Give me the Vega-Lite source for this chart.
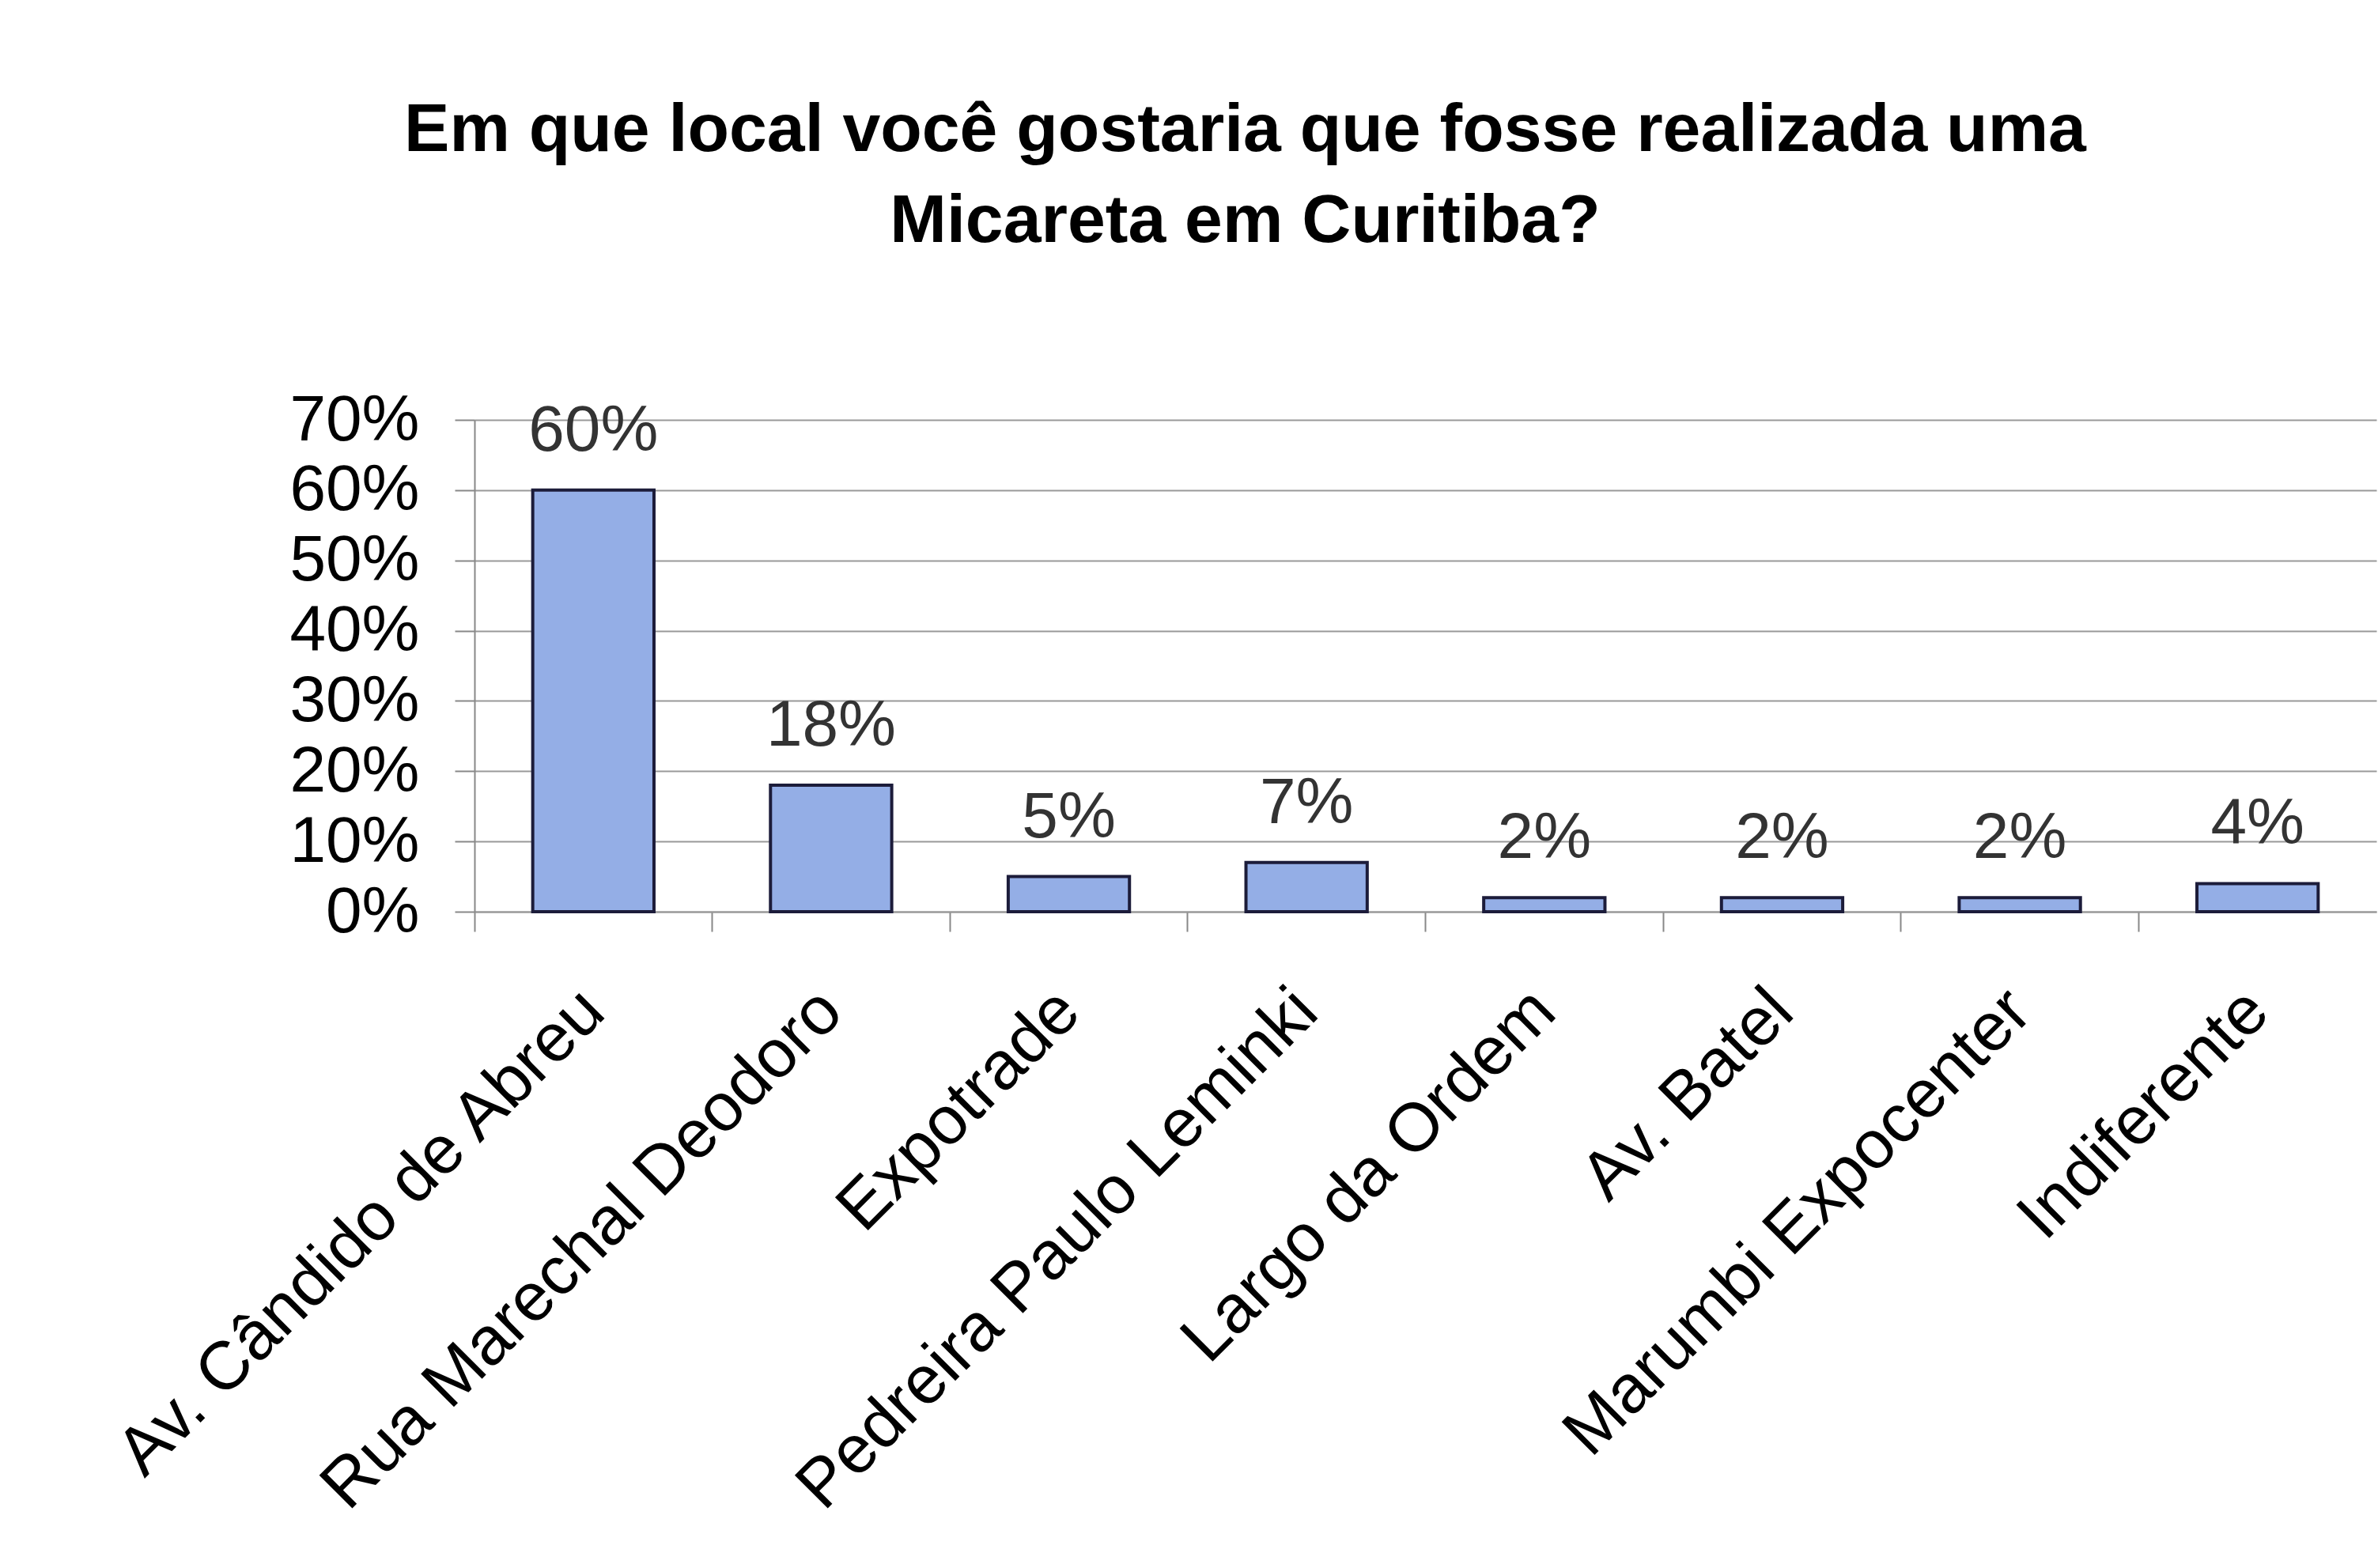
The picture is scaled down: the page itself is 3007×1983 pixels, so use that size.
{
  "$schema": "https://vega.github.io/schema/vega-lite/v6.json",
  "autosize": {"type": "none"},
  "width": 2405,
  "height": 622,
  "padding": {"left": 600, "top": 531, "right": 2, "bottom": 830},
  "background": "white",
  "config": {"view": {"stroke": null}, "font": "Liberation Sans"},
  "title": {
    "text": ["Em que local você gostaria que fosse realizada uma", "Micareta em Curitiba?"],
    "font": "Liberation Sans",
    "fontSize": 86,
    "fontWeight": "bold",
    "color": "black",
    "anchor": "middle",
    "frame": "group",
    "lineHeight": 115,
    "baseline": "alphabetic",
    "dx": -228,
    "offset": 98
  },
  "data": {
    "values": [
      {"local": "Av. Cândido de Abreu", "pct": 0.60},
      {"local": "Rua Marechal Deodoro", "pct": 0.18},
      {"local": "Expotrade", "pct": 0.05},
      {"local": "Pedreira Paulo Leminki", "pct": 0.07},
      {"local": "Largo da Ordem", "pct": 0.02},
      {"local": "Av. Batel", "pct": 0.02},
      {"local": "Marumbi Expocenter", "pct": 0.02},
      {"local": "Indiferente", "pct": 0.04}
    ]
  },
  "resolve": {"axis": {"x": "independent"}},
  "layer": [
    {
      "mark": {"type": "bar", "color": "#94AEE6", "stroke": "#1c1c3a", "strokeWidth": 4, "width": {"band": 0.51}},
      "encoding": {
        "x": {
          "field": "local", "type": "nominal", "sort": null,
          "scale": {"paddingInner": 0, "paddingOuter": 0},
          "axis": {
            "orient": "bottom",
            "title": null, "labelAngle": -45, "labelAlign": "right", "labelBaseline": "middle",
            "labelFontSize": 86, "labelColor": "black", "labelFont": "Liberation Sans",
            "ticks": false, "domain": false, "labelPadding": 112, "labelLimit": 0
          }
        },
        "y": {
          "field": "pct", "type": "quantitative",
          "scale": {"domain": [0, 0.7], "nice": false},
          "axis": {
            "title": null, "format": ".0%", "values": [0, 0.1, 0.2, 0.3, 0.4, 0.5, 0.6, 0.7],
            "labelFontSize": 82, "labelColor": "black", "labelFont": "Liberation Sans",
            "tickSize": 25, "tickColor": "#888888", "tickWidth": 2, "labelPadding": 45,
            "domainColor": "#888888", "domainWidth": 2,
            "grid": true, "gridColor": "#999999", "gridWidth": 2
          }
        }
      }
    },
    {
      "mark": {"type": "text", "baseline": "alphabetic", "dy": -50, "fontSize": 82, "color": "#333333", "font": "Liberation Sans"},
      "encoding": {
        "x": {
          "field": "local", "type": "nominal", "sort": null,
          "axis": {
            "orient": "bottom",
            "title": null, "labels": false, "bandPosition": 0, "tickSize": 25,
            "tickColor": "#888888", "tickWidth": 2, "domainColor": "#999999", "domainWidth": 2
          }
        },
        "y": {"field": "pct", "type": "quantitative"},
        "text": {"field": "pct", "type": "quantitative", "format": ".0%"}
      }
    }
  ]
}
